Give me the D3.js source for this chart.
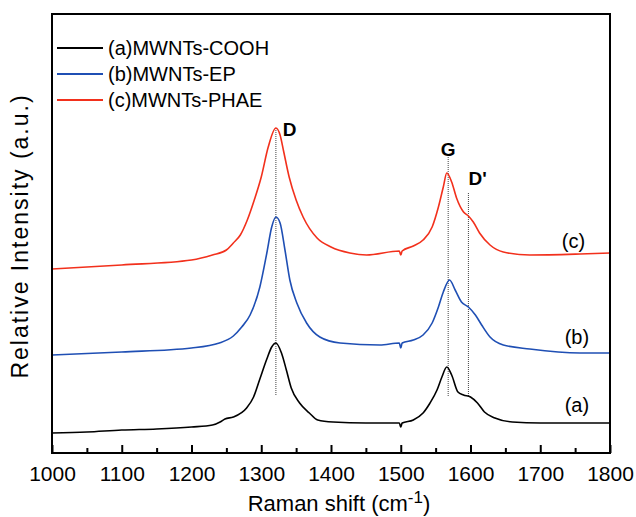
<!DOCTYPE html>
<html>
  <head>
    <meta charset="utf-8" />
    <script src="https://d3js.org/d3.v7.min.js"></script>
    <style>
      body {
        margin: 0;
        background: #fff;
      }
      text {
        font-family: "Liberation Sans", Arial, sans-serif;
      }
    </style>
  </head>
  <body>
    <div id="my_chart"></div>
    <script>
      // spectra: [Raman shift (cm-1), relative intensity]
      const seriesA = [
        [1000, 20], [1050, 21], [1100, 23], [1150, 24], [1200, 26], [1230, 28],
        [1241, 31], [1248, 34], [1260, 36], [1279, 45], [1289, 56], [1298, 74],
        [1308, 94], [1315, 106], [1321, 110], [1329, 100], [1336, 83], [1343, 65],
        [1355, 50], [1369, 40], [1381, 33], [1403, 31], [1450, 30], [1498, 30],
        [1500, 26], [1502, 30], [1518, 33], [1532, 40], [1542, 50], [1552, 63],
        [1559, 76], [1566, 86], [1573, 78], [1582, 61], [1590, 58], [1600, 56],
        [1610, 50], [1620, 41], [1635, 35], [1660, 31], [1700, 30], [1800, 30],
      ];
      const seriesB = [
        [1000, 98], [1100, 101], [1200, 105], [1240, 110], [1260, 117], [1272, 126],
        [1284, 138], [1298, 166], [1308, 200], [1315, 226], [1321, 236], [1327, 230],
        [1334, 203], [1341, 173], [1351, 150], [1365, 130], [1384, 116], [1413, 110],
        [1470, 108], [1498, 110], [1500, 105], [1502, 110], [1518, 113], [1532, 118],
        [1545, 130], [1554, 146], [1561, 161], [1570, 173], [1578, 163], [1587, 151],
        [1597, 146], [1607, 138], [1616, 128], [1628, 116], [1647, 108], [1685, 104],
        [1757, 100], [1800, 100],
      ];
      const seriesC = [
        [1000, 184], [1100, 188], [1200, 193], [1230, 198], [1250, 203],
        [1260, 210], [1270, 218], [1280, 233], [1290, 253], [1300, 276], [1310, 306],
        [1321, 325], [1327, 318], [1332, 302], [1340, 276], [1350, 253], [1360, 236],
        [1380, 215], [1400, 206], [1427, 200], [1451, 198], [1498, 202], [1500, 198],
        [1502, 202], [1518, 207], [1532, 213], [1545, 226], [1554, 246], [1561, 266],
        [1566, 280], [1573, 271], [1580, 255], [1590, 241], [1597, 237], [1604, 231],
        [1613, 220], [1628, 208], [1647, 201], [1685, 198], [1757, 199], [1800, 200],
      ];
      const legendNames = ["(a)MWNTs-COOH", "(b)MWNTs-EP", "(c)MWNTs-PHAE"];
      const curveTags = ["(a)", "(b)", "(c)"];
      const colors = ["#000000", "#1f4fb4", "#f2301c"];
      // band markers: [label, position, top intensity]
      const bands = [
        ["D", 1321, 325],
        ["G", 1568, 296],
        ["D'", 1597, 260],
      ];
      const xTicks = [1000, 1100, 1200, 1300, 1400, 1500, 1600, 1700, 1800];
      const xMinorTicks = [1050, 1150, 1250, 1350, 1450, 1550, 1650, 1750];

      const W = 636,
        H = 517;
      const margin = { left: 52, right: 610, top: 14, bottom: 453 };

      const svg = d3
        .select("#my_chart")
        .append("svg")
        .attr("width", W)
        .attr("height", H);

      const x = d3.scaleLinear().domain([1000, 1800]).range([margin.left, margin.right]);
      const y = d3.scaleLinear().domain([0, 439]).range([margin.bottom, margin.top]);

      // dotted band lines
      const markerBottom = 57;
      svg
        .selectAll(".band")
        .data(bands)
        .enter()
        .append("line")
        .attr("x1", (d) => x(d[1]))
        .attr("x2", (d) => x(d[1]))
        .attr("y1", (d) => y(d[2]))
        .attr("y2", y(markerBottom))
        .attr("stroke", "#444")
        .attr("stroke-width", 1)
        .attr("stroke-dasharray", "1,1");

      // spectra
      const line = d3
        .line()
        .x((d) => x(d[0]))
        .y((d) => y(d[1]))
        .curve(d3.curveMonotoneX);
      [seriesA, seriesB, seriesC].forEach((s, i) => {
        svg
          .append("path")
          .datum(s)
          .attr("fill", "none")
          .attr("stroke", colors[i])
          .attr("stroke-width", 1.6)
          .attr("d", line);
      });

      // band labels
      svg
        .append("text")
        .attr("x", x(1331))
        .attr("y", y(317))
        .attr("font-size", 19)
        .attr("font-weight", "bold")
        .text(bands[0][0]);
      svg
        .append("text")
        .attr("x", x(1568))
        .attr("y", y(297))
        .attr("text-anchor", "middle")
        .attr("font-size", 19)
        .attr("font-weight", "bold")
        .text(bands[1][0]);
      svg
        .append("text")
        .attr("x", x(1597))
        .attr("y", y(268))
        .attr("font-size", 19)
        .attr("font-weight", "bold")
        .text(bands[2][0]);

      // curve tags on the right
      const tagPos = [
        [1735, 41],
        [1735, 109],
        [1731, 205],
      ];
      curveTags.forEach((t, i) => {
        svg
          .append("text")
          .attr("x", x(tagPos[i][0]))
          .attr("y", y(tagPos[i][1]))
          .attr("font-size", 20)
          .text(t);
      });

      // frame
      svg
        .append("rect")
        .attr("x", margin.left)
        .attr("y", margin.top)
        .attr("width", margin.right - margin.left)
        .attr("height", margin.bottom - margin.top)
        .attr("fill", "none")
        .attr("stroke", "#000")
        .attr("stroke-width", 2);

      // x axis, ticks pointing inward
      const xAxis = svg
        .append("g")
        .attr("transform", "translate(0," + margin.bottom + ")")
        .call(
          d3.axisBottom(x).tickValues(xTicks).tickSize(-8).tickPadding(13).tickFormat(d3.format("d"))
        );
      xAxis.select(".domain").remove();
      xAxis.selectAll("line").attr("stroke-width", 2);
      xAxis.selectAll("text").attr("font-size", 21).attr("fill", "#000");
      const xMinor = svg
        .append("g")
        .attr("transform", "translate(0," + margin.bottom + ")")
        .call(d3.axisBottom(x).tickValues(xMinorTicks).tickSize(-5).tickFormat(""));
      xMinor.select(".domain").remove();
      xMinor.selectAll("line").attr("stroke-width", 2);

      // axis titles
      const xt = svg
        .append("text")
        .attr("x", (margin.left + margin.right) / 2 + 8)
        .attr("y", 511)
        .attr("text-anchor", "middle")
        .attr("font-size", 22);
      xt.append("tspan").text("Raman shift (cm");
      xt.append("tspan").attr("dy", -8).attr("font-size", 17).text("-1");
      xt.append("tspan").attr("dy", 8).text(")");

      svg
        .append("text")
        .attr("transform", "translate(28," + 236 + ") rotate(-90)")
        .attr("text-anchor", "middle")
        .attr("font-size", 23)
        .attr("letter-spacing", 2)
        .text("Relative Intensity (a.u.)");

      // legend
      legendNames.forEach((name, i) => {
        const ly = 48 + i * 26;
        svg
          .append("line")
          .attr("x1", 57)
          .attr("x2", 103)
          .attr("y1", ly)
          .attr("y2", ly)
          .attr("stroke", colors[i])
          .attr("stroke-width", 2);
        svg
          .append("text")
          .attr("x", 108)
          .attr("y", ly + 7)
          .attr("font-size", 20)
          .text(name);
      });
    </script>
  </body>
</html>
